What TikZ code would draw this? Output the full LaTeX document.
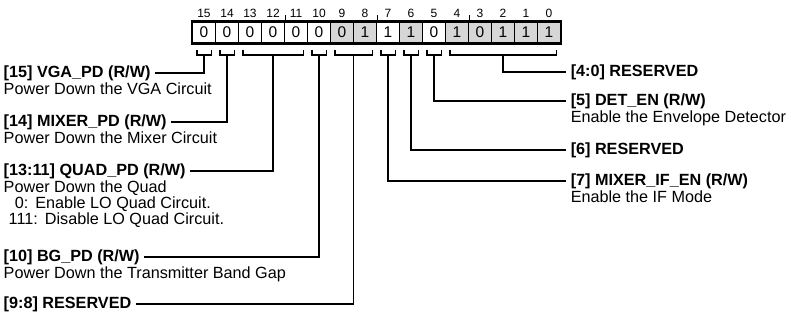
\documentclass[tikz,border=0pt]{standalone}
\usepackage{fontspec}
\setmainfont{Liberation Sans}
\usetikzlibrary{calc}
\definecolor{cellgray}{RGB}{214,214,214}
\tikzset{
  cell/.style={draw,minimum width=23pt,minimum height=21pt,inner sep=0pt,line width=1.5pt,font=\fontsize{15.5}{15.5}\selectfont},
  bitnum/.style={inner sep=0pt,font=\fontsize{12}{12}\selectfont},
  head/.style={inner xsep=4pt,inner ysep=1pt,font=\fontsize{16.2}{17.5}\selectfont\bfseries},
  desc/.style={inner xsep=4pt,inner ysep=1pt,align=left,font=\fontsize{16.2}{17.5}\selectfont}
}
\begin{document}
\begin{tikzpicture}[x=1pt,y=-1pt,line width=1.5pt]
\useasboundingbox (0,0) rectangle (788,320);
% register cells
\foreach \b/\v/\f in {15/0/white,14/0/white,13/0/white,12/0/white,11/0/white,10/0/white,9/0/cellgray,8/1/cellgray,7/1/white,6/1/cellgray,5/0/white,4/1/cellgray,3/0/cellgray,2/1/cellgray,1/1/cellgray,0/1/cellgray}{
  \node[cell,fill=\f] (b\b) at ({204+(15-\b)*23},32.5) {\v};
  \node[bitnum] (n\b) at ({204+(15-\b)*23},13.5) {\b};
}
\draw[line width=1.8pt] (b15.north west) rectangle (b0.south east);
% nibble ticks
\draw (b12.north east) -- ++(0,-6);
\draw (b8.north east) -- ++(0,-6);
\draw (b4.north east) -- ++(0,-6);
% brackets under the fields
\newcommand\fieldbrace[3]{%
  \draw ([xshift=5pt,yshift=-6pt]#1.south west) -- ++(0,5.5) -| ([xshift=-5pt,yshift=-6pt]#2.south east);
  \coordinate (#3) at ([yshift=-11.5pt]$(#1.south west)!.5!(#2.south east)$);}
\fieldbrace{b15}{b15}{k15}
\fieldbrace{b14}{b14}{k14}
\fieldbrace{b13}{b11}{k13}
\fieldbrace{b10}{b10}{k10}
\fieldbrace{b9}{b8}{k9}
\fieldbrace{b7}{b7}{k7}
\fieldbrace{b6}{b6}{k6}
\fieldbrace{b5}{b5}{k5}
\fieldbrace{b4}{b0}{k4}
% left labels
\node[head,anchor=west] (vga) at (-1,73) {[15] VGA\_PD (R/W)};
\node[desc,anchor=north west] (vgad) at (-1,81) {Power Down the VGA Circuit};
\node[head,anchor=west] (mix) at (-1,122) {[14] MIXER\_PD (R/W)};
\node[desc,anchor=north west] (mixd) at (-1,130) {Power Down the Mixer Circuit};
\node[head,anchor=west] (quad) at (-1,171) {[13:11] QUAD\_PD (R/W)};
\node[desc,anchor=north west] (quadd) at (-1,179) {Power Down the Quad\\[-1.5pt]
  \hspace*{11pt}0:\hspace{7pt}Enable LO Quad Circuit.\\[-1.5pt]
  \hspace*{5pt}111:\hspace{7pt}Disable LO Quad Circuit.};
\node[head,anchor=west] (bg) at (-1,257) {[10] BG\_PD (R/W)};
\node[desc,anchor=north west] (bgd) at (-1,265) {Power Down the Transmitter Band Gap};
\node[head,anchor=west] (res98) at (-1,304) {[9:8] RESERVED};
% right labels
\node[head,anchor=west] (res40) at (566,72) {[4:0] RESERVED};
\node[head,anchor=west] (det) at (566,101) {[5] DET\_EN (R/W)};
\node[desc,anchor=north west] (detd) at (566,109) {Enable the Envelope Detector};
\node[head,anchor=west] (res6) at (566,150) {[6] RESERVED};
\node[head,anchor=west] (mif) at (566,181) {[7] MIXER\_IF\_EN (R/W)};
\node[desc,anchor=north west] (mifd) at (566,189) {Enable the IF Mode};
% connectors
\draw (k15) |- (vga.east);
\draw (k14) |- (mix.east);
\draw (k13) |- (quad.east);
\draw (k10) |- (bg.east);
\draw (k9) |- (res98.east);
\draw (k4) |- (res40.west);
\draw (k5) |- (det.west);
\draw (k6) |- (res6.west);
\draw (k7) |- (mif.west);
\end{tikzpicture}
\end{document}
